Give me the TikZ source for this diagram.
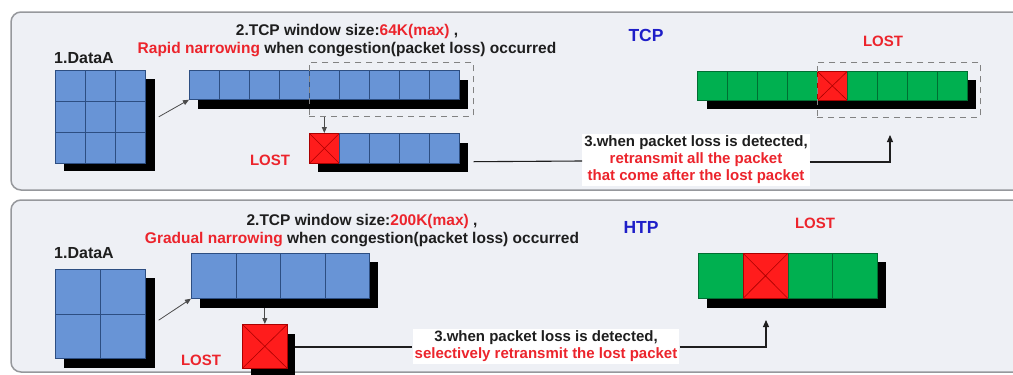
\documentclass[tikz,border=0pt]{standalone}
\usepackage{fontspec}
\setmainfont{Liberation Sans}
\usetikzlibrary{arrows.meta,calc}
\definecolor{panelfill}{RGB}{238,240,245}
\definecolor{panelline}{RGB}{150,152,156}
\definecolor{bluec}{RGB}{104,148,214}
\definecolor{bluedk}{RGB}{45,78,130}
\definecolor{greenc}{RGB}{0,176,80}
\definecolor{greendk}{RGB}{0,110,50}
\definecolor{redc}{RGB}{255,28,28}
\definecolor{reddk}{RGB}{170,0,0}
\definecolor{redtxt}{RGB}{236,36,44}
\definecolor{bluetxt}{RGB}{30,30,200}
\definecolor{txt}{RGB}{30,30,30}
\definecolor{dashgray}{RGB}{130,130,130}
\tikzset{
 panel/.style={draw=panelline, line width=1.5pt, fill=panelfill, rounded corners=10pt},
 cellbase/.style={line width=0.7pt, inner sep=0pt, anchor=north west},
 bcell/.style={cellbase, draw=bluedk, fill=bluec},
 gcell/.style={cellbase, draw=greendk, fill=greenc},
 rcell/.style={cellbase, draw=reddk, fill=redc,
   path picture={\draw[reddk, line width=0.6pt]
     (path picture bounding box.north west) -- (path picture bounding box.south east)
     (path picture bounding box.north east) -- (path picture bounding box.south west);}},
 shadowbox/.style={fill=black, draw=none, inner sep=0pt, anchor=north west},
 dashbox/.style={draw=dashgray, dash pattern=on 6pt off 5pt, line width=0.9pt, inner sep=0pt, anchor=north west},
 lbl/.style={font=\bfseries\fontsize{15}{17}\selectfont, text=txt, inner sep=0pt},
 title/.style={lbl, font=\bfseries\fontsize{15.5}{18}\selectfont, align=center},
 lost/.style={lbl, text=redtxt},
 proto/.style={font=\bfseries\fontsize{17.5}{20}\selectfont, text=bluetxt, inner sep=0pt},
 link/.style={draw=txt, line width=1.1pt},
 arr/.style={link, -{Triangle[length=7pt,width=6pt]}},
 thinarr/.style={draw=txt!80, line width=0.8pt, -{Triangle[length=6pt,width=5pt]}},
}
\begin{document}
\begin{tikzpicture}[x=1pt,y=-1pt]
\useasboundingbox (0,0) rectangle (1013,375);
\clip (0,0) rectangle (1013,375);
% panels
\draw[panel] (11,12) rectangle (1030,190);
\draw[panel] (11,200) rectangle (1030,372);

% ================= TCP panel =================
\node[lbl, font=\bfseries\fontsize{16}{18}\selectfont] (tdata) at (84,58) {1.DataA};
\node[title] (ttitle) at (347,41) {2.TCP window size:\textcolor{redtxt}{64K(max)} ,\\\textcolor{redtxt}{Rapid narrowing} when congestion(packet loss) occurred};
\node[proto] (tcp) at (646,35) {TCP};

% data grid 3x3
\node[shadowbox, minimum width=91pt, minimum height=92pt] (tgs) at (64,79) {};
\foreach \i in {0,1,2}{
  \foreach \j in {0,1,2}{
    \node[bcell, minimum width=30pt, minimum height=31pt] (tg\i\j) at ({55+30*\i},{70+31*\j}) {};
  }
}
% window row
\node[shadowbox, minimum width=270pt, minimum height=29pt] (tws) at (198,80) {};
\foreach \i in {1,...,9}{
  \node[bcell, minimum width=30pt, minimum height=29pt] (tw\i) at ({189+30*(\i-1)},70) {};
}
\node[dashbox, minimum width=164pt, minimum height=54pt] (tdash) at (309,62) {};
% reduced row
\node[shadowbox, minimum width=150pt, minimum height=29pt] (tls) at (318,143) {};
\node[rcell, minimum width=30pt, minimum height=30pt] (tl1) at (309,133) {};
\foreach \i in {2,...,5}{
  \node[bcell, minimum width=30pt, minimum height=30pt] (tl\i) at ({309+30*(\i-1)},133) {};
}
\node[lost] (tlost1) at (270,160) {LOST};
% receiver row
\node[shadowbox, minimum width=269pt, minimum height=29pt] (trs) at (707,80) {};
\foreach \i in {1,...,9}{
  \ifnum\i=5
    \node[rcell, minimum width=30pt, minimum height=29pt] (tr\i) at ({697+30*(\i-1)},71) {};
  \else
    \node[gcell, minimum width=30pt, minimum height=29pt] (tr\i) at ({697+30*(\i-1)},71) {};
  \fi
}
\node[dashbox, minimum width=163pt, minimum height=55pt] (trdash) at (817,62) {};
\node[lost] (tlost2) at (883,41) {LOST};
% step 3 text
\node[lbl, fill=white, align=center, inner sep=2pt] (tstep) at (696,160) {3.when packet loss is detected,\\\textcolor{redtxt}{retransmit all the packet}\\\textcolor{redtxt}{that come after the lost packet}};
\coordinate (tturn) at (890,162);
% connectors
\draw[thinarr] ($(tg21.east)+(13,0)$) -- (tw1.south west);
\draw[thinarr] (tdash.south -| tl1.north) -- (tl1.north);
\draw[link] ($(tl5.south east)+(14,-2)$) -- (tstep.west |- 0,161);
\draw[arr] (tstep.east |- tturn) -- (tturn) -- (890,135);

% ================= HTP panel =================
\node[lbl, font=\bfseries\fontsize{16}{18}\selectfont] (bdata) at (84,253) {1.DataA};
\node[title] (btitle) at (362,231) {2.TCP window size:\textcolor{redtxt}{200K(max)} ,\\\textcolor{redtxt}{Gradual narrowing} when congestion(packet loss) occurred};
\node[proto] (htp) at (641,227) {HTP};

% data grid 2x2
\node[shadowbox, minimum width=91pt, minimum height=90pt] (bgs) at (64,278) {};
\foreach \i in {0,1}{
  \foreach \j in {0,1}{
    \node[bcell, minimum width=45pt, minimum height=44.5pt] (bg\i\j) at ({55+45*\i},{269+44.5*\j}) {};
  }
}
% window row
\node[shadowbox, minimum width=178pt, minimum height=46pt] (bws) at (200,262) {};
\foreach \i in {1,...,4}{
  \node[bcell, minimum width=44.5pt, minimum height=45pt] (bw\i) at ({191+44.5*(\i-1)},253) {};
}
% lost packet
\node[shadowbox, minimum width=44pt, minimum height=45pt] (bls) at (251,334) {};
\node[rcell, minimum width=45pt, minimum height=44pt] (bl1) at (242,324) {};
\node[lost] (blost1) at (201,360) {LOST};
% receiver row
\node[shadowbox, minimum width=179pt, minimum height=46pt] (brs) at (707,262) {};
\foreach \i in {1,...,4}{
  \ifnum\i=2
    \node[rcell, minimum width=44.75pt, minimum height=45pt] (br\i) at ({698+44.75*(\i-1)},253) {};
  \else
    \node[gcell, minimum width=44.75pt, minimum height=45pt] (br\i) at ({698+44.75*(\i-1)},253) {};
  \fi
}
\node[lost] (blost2) at (815,223) {LOST};
% step 3 text
\node[lbl, fill=white, align=center, inner sep=2pt] (bstep) at (546,346.5) {3.when packet loss is detected,\\\textcolor{redtxt}{selectively retransmit the lost packet}};
\coordinate (bturn) at (766,347);
% connectors
\draw[thinarr] ($(bg10.south east)+(13,6)$) -- (bw1.south west);
\draw[thinarr] (bws.south -| bl1.north) -- (bl1.north);
\draw[link] ($(bls.north east)+(0,13)$) -- (bstep.west |- 0,347);
\draw[arr] (bstep.east |- bturn) -- (bturn) -- (766,320);
\end{tikzpicture}
\end{document}
